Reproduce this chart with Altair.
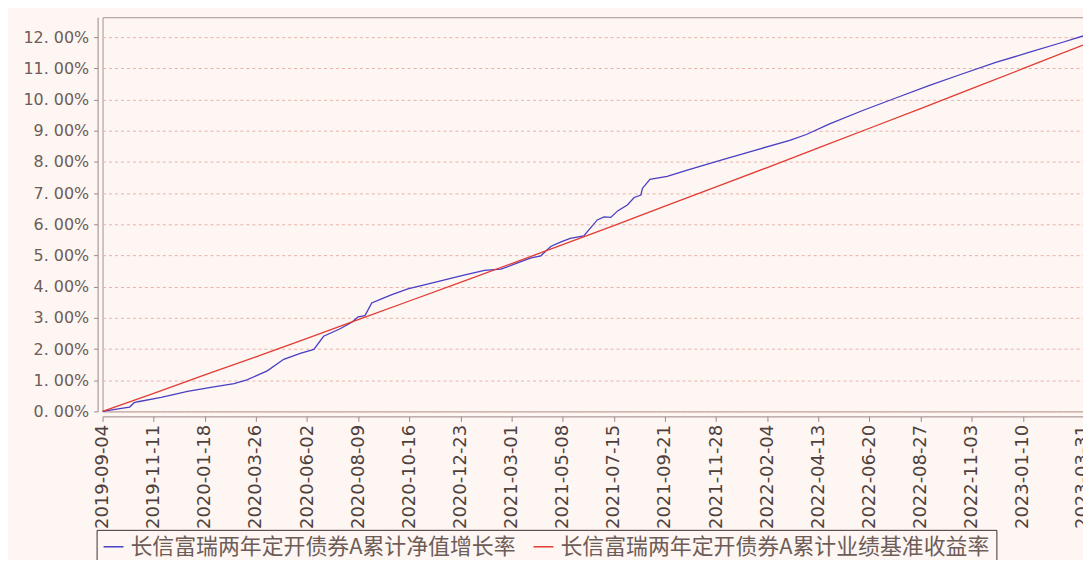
import altair as alt
import pandas as pd

# ---- data ----
tick_dates = ["2019-09-04", "2019-11-11", "2020-01-18", "2020-03-26", "2020-06-02",
              "2020-08-09", "2020-10-16", "2020-12-23", "2021-03-01", "2021-05-08",
              "2021-07-15", "2021-09-21", "2021-11-28", "2022-02-04", "2022-04-13",
              "2022-06-20", "2022-08-27", "2022-11-03", "2023-01-10", "2023-03-31"]

bench_vals = [0.00, 0.58, 1.17, 1.75, 2.34, 2.94, 3.54, 4.14, 4.74, 5.35,
              5.96, 6.58, 7.20, 7.82, 8.45, 9.08, 9.71, 10.35, 10.99, 11.75]

fund_dates = ["2019-09-04", "2019-09-29", "2019-10-10", "2019-10-16", "2019-10-21",
              "2019-11-21", "2019-12-26", "2020-01-30", "2020-02-26", "2020-03-14",
              "2020-04-10", "2020-05-02", "2020-05-24", "2020-06-11", "2020-06-24",
              "2020-07-16", "2020-07-31", "2020-08-09", "2020-08-18", "2020-08-27",
              "2020-09-09", "2020-09-22", "2020-10-14", "2020-11-05", "2020-12-02",
              "2020-12-29", "2021-01-24", "2021-02-15", "2021-03-09", "2021-03-27",
              "2021-04-09", "2021-04-22", "2021-05-05", "2021-05-18", "2021-06-05",
              "2021-06-23", "2021-07-02", "2021-07-11", "2021-07-20", "2021-08-02",
              "2021-08-11", "2021-08-20", "2021-08-22", "2021-09-01", "2021-09-24",
              "2021-10-24", "2021-12-08", "2022-01-21", "2022-03-06", "2022-03-28",
              "2022-04-28", "2022-06-11", "2022-07-25", "2022-09-07", "2022-10-21",
              "2022-12-05", "2023-01-18", "2023-03-03", "2023-03-31"]

fund_vals = [0.00, 0.10, 0.14, 0.28, 0.31, 0.45, 0.64, 0.79, 0.89, 1.01,
             1.30, 1.67, 1.86, 1.99, 2.41, 2.65, 2.85, 3.03, 3.07, 3.48,
             3.61, 3.74, 3.93, 4.06, 4.22, 4.38, 4.52, 4.56, 4.76, 4.92,
             4.99, 5.29, 5.43, 5.55, 5.63, 6.14, 6.24, 6.22, 6.43, 6.62,
             6.86, 6.94, 7.15, 7.44, 7.54, 7.76, 8.08, 8.39, 8.69, 8.88,
             9.22, 9.65, 10.05, 10.45, 10.82, 11.19, 11.51, 11.83, 12.04]

series_names = ["长信富瑞两年定开债券A累计净值增长率", "长信富瑞两年定开债券A累计业绩基准收益率"]
series_colors = ["#4a3ec4", "#e23b33"]
y_ticks = list(range(0, 13))

df = pd.concat([
    pd.DataFrame({"date": fund_dates, "value": fund_vals, "series": series_names[0]}),
    pd.DataFrame({"date": tick_dates, "value": bench_vals, "series": series_names[1]}),
])


def dt(s):
    y, m, d = (int(p) for p in s.split("-"))
    return alt.DateTime(year=y, month=m, date=d, utc=True)


BG = "#fdf6f3"
AXIS = "#9c8781"
LABEL = "#6e5c57"

chart = alt.Chart(df).mark_line(strokeWidth=1.3).encode(
    x=alt.X("date:T",
            scale=alt.Scale(type="utc", domain=[dt(tick_dates[0]), dt(tick_dates[-1])]),
            axis=alt.Axis(values=[dt(s) for s in tick_dates],
                          labelExpr="utcFormat(datum.value, '%Y-%m-%d')",
                          labelAngle=270, labelAlign="right",
                          labelBaseline="middle", labelOverlap=False, labelFlush=False,
                          labelFont="DejaVu Sans", labelFontSize=18, labelColor="#4f403b",
                          labelPadding=3, tickSize=5, tickColor=AXIS, domainColor=AXIS,
                          offset=5, grid=False, title=None)),
    y=alt.Y("value:Q",
            scale=alt.Scale(domain=[0, 12.64], nice=False, zero=False),
            axis=alt.Axis(values=y_ticks,
                          labelExpr="replace(format(datum.value, '.2f'), '.', '. ') + '%'",
                          labelFont="DejaVu Sans", labelFontSize=16, labelColor=LABEL,
                          labelPadding=5, tickSize=4, tickColor=AXIS, domainColor=AXIS,
                          offset=5, grid=True, gridColor="#eab0a6", gridDash=[3, 3],
                          gridWidth=1, title=None)),
    color=alt.Color("series:N",
                    scale=alt.Scale(domain=series_names, range=series_colors),
                    sort=series_names,
                    legend=alt.Legend(orient="none", legendX=-6, legendY=515,
                                      direction="horizontal", columns=2, title=None,
                                      symbolType="stroke", symbolSize=400,
                                      symbolStrokeWidth=1.5, labelFont="Noto Sans CJK SC",
                                      labelFontSize=22, labelColor=LABEL, labelOffset=6,
                                      columnPadding=14, padding=6, strokeColor="#3a3030",
                                      fillColor=BG, labelLimit=600)),
).properties(
    width=985,
    height=396,
    background=BG,
    padding={"left": 95, "top": 8, "right": 0, "bottom": 148},
    autosize=alt.AutoSizeParams(type="none"),
).configure_view(
    stroke="#a8928c", strokeWidth=1, fill=BG
)

chart.save("out.html", embed_options={"renderer": "svg", "actions": False})
